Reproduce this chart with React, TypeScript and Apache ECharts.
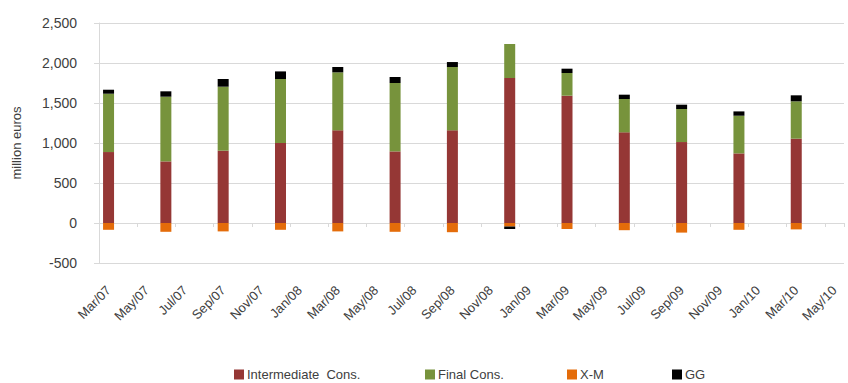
import React, { useEffect, useRef } from "react";
import * as echarts from "echarts";

// Monthly category slots (bars only fall on quarter-end months)
const months = [
  "Mar/07", "Apr/07", "May/07", "Jun/07", "Jul/07", "Aug/07", "Sep/07", "Oct/07", "Nov/07", "Dec/07",
  "Jan/08", "Feb/08", "Mar/08", "Apr/08", "May/08", "Jun/08", "Jul/08", "Aug/08", "Sep/08", "Oct/08",
  "Nov/08", "Dec/08", "Jan/09", "Feb/09", "Mar/09", "Apr/09", "May/09", "Jun/09", "Jul/09", "Aug/09",
  "Sep/09", "Oct/09", "Nov/09", "Dec/09", "Jan/10", "Feb/10", "Mar/10", "Apr/10", "May/10",
];

// Quarterly observations
const quarters = [
  "Mar/07", "Jun/07", "Sep/07", "Dec/07", "Mar/08", "Jun/08", "Sep/08",
  "Dec/08", "Mar/09", "Jun/09", "Sep/09", "Dec/09", "Mar/10",
];
const intermediateCons = [887, 770, 904, 1000, 1158, 895, 1158, 1812, 1591, 1133, 1012, 870, 1054];
const finalCons = [729, 809, 800, 800, 725, 855, 792, 425, 284, 417, 413, 471, 467];
const exportsMinusImports = [-85, -110, -105, -85, -105, -110, -115, -45, -75, -90, -120, -85, -80];
const generalGov = [50, 67, 96, 95, 67, 75, 62, -30, 54, 54, 54, 54, 75];

const seriesNames = ["Intermediate  Cons.", "Final Cons.", "X-M", "GG"];
const seriesColors = ["#953735", "#77933C", "#E46C0A", "#000000"];
// Left edge of each legend entry
const legendLefts = [234, 425, 567, 672];

const FONT = "'Liberation Sans', Arial, sans-serif";
const TEXT = "#404040";
const GRID = "#D9D9D9";

function toMonthly(values: number[]): (number | null)[] {
  const out: (number | null)[] = months.map(() => null);
  quarters.forEach((q, i) => {
    const idx = months.indexOf(q);
    if (idx >= 0) out[idx] = values[i];
  });
  return out;
}

export default function App() {
  const ref = useRef<HTMLDivElement>(null);

  useEffect(() => {
    if (!ref.current) return;
    const chart = echarts.init(ref.current, undefined, { renderer: "svg" });
    const data = [intermediateCons, finalCons, exportsMinusImports, generalGov];

    chart.setOption({
      animation: false,
      textStyle: { fontFamily: FONT },
      grid: { left: 99, right: 4, top: 23, bottom: 120, containLabel: false },
      legend: seriesNames.map((name, i) => ({
        left: legendLefts[i],
        top: 368,
        padding: 0,
        itemWidth: 10,
        itemHeight: 10,
        icon: "rect",
        data: [name],
        textStyle: { fontFamily: FONT, fontSize: 13, color: TEXT, padding: [0, 0, 0, -2] },
      })),
      xAxis: [
        {
          type: "category",
          data: months,
          position: "bottom",
          axisLine: { show: false, onZero: false },
          axisTick: { show: false },
          axisLabel: {
            interval: 1,
            rotate: 45,
            margin: 25,
            fontFamily: FONT,
            fontSize: 13,
            color: TEXT,
          },
        },
        {
          type: "category",
          data: months,
          position: "top",
          axisLine: { show: true, onZero: true, lineStyle: { color: GRID, width: 1 } },
          axisTick: { show: true, inside: true, interval: 1, length: 4, lineStyle: { color: GRID } },
          axisLabel: { show: false },
        },
      ],
      yAxis: {
        type: "value",
        min: -500,
        max: 2500,
        interval: 500,
        name: "million euros",
        nameLocation: "middle",
        nameGap: 76,
        nameTextStyle: { fontFamily: FONT, fontSize: 13, color: TEXT },
        axisLine: { show: true, lineStyle: { color: GRID } },
        axisTick: { show: true, length: 5, lineStyle: { color: GRID } },
        splitLine: { show: true, lineStyle: { color: GRID, width: 1 } },
        axisLabel: {
          margin: 22,
          fontFamily: FONT,
          fontSize: 14,
          color: TEXT,
          formatter: (v: number) => v.toLocaleString("en-US"),
        },
      },
      series: seriesNames.map((name, i) => ({
        name,
        type: "bar",
        stack: "total",
        xAxisIndex: 0,
        barWidth: 11,
        itemStyle: { color: seriesColors[i] },
        data: toMonthly(data[i]),
      })),
    });

    return () => chart.dispose();
  }, []);

  return (
    <div
      ref={ref}
      style={{ position: "fixed", left: 0, top: 0, width: 848, height: 383, background: "#fff" }}
    />
  );
}
